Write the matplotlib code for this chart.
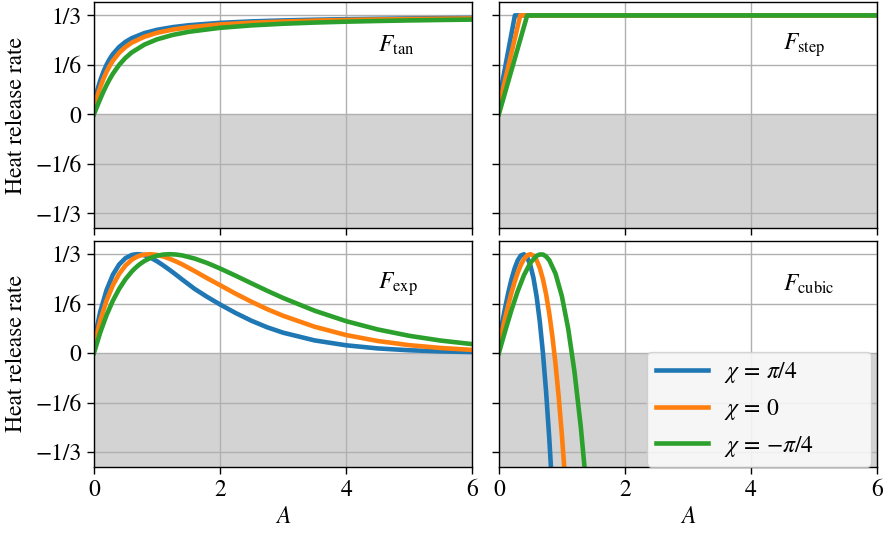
import matplotlib
matplotlib.use("Agg")
import matplotlib.pyplot as plt
from matplotlib.ticker import FixedLocator, FixedFormatter

plt.rcParams["font.family"] = ["STIXGeneral", "DejaVu Serif"]
plt.rcParams["mathtext.fontset"] = "stix"
plt.rcParams["font.size"] = 17

# ---- data -------------------------------------------------------------
chi_labels = [r"$\chi\, =\, \pi/4$", r"$\chi\, =\, 0$", r"$\chi\, =\, {-}\pi/4$"]
colors = ["tab:blue", "tab:orange", "tab:green"]

y_ticks = [-1/3, -1/6, 0, 1/6, 1/3]
y_ticklabels = ["\u22121/3", "\u22121/6", "0", "1/6", "1/3"]
x_ticks = [0, 2, 4, 6]

# F_tan
A_tan = [0, 0.05, 0.1, 0.15, 0.2, 0.25, 0.3, 0.4, 0.5, 0.6, 0.8, 1.0, 1.25,
         1.5, 2.0, 2.5, 3.0, 3.5, 4.0, 4.5, 5.0, 5.5, 6.0]
tan_pos = [0.0387, 0.0789, 0.1138, 0.1431, 0.1671, 0.1867, 0.2028, 0.2269,
           0.2441, 0.2566, 0.2737, 0.2847, 0.2938, 0.3001, 0.3082, 0.3131,
           0.3164, 0.3188, 0.3206, 0.3219, 0.3231, 0.3240, 0.3248]
tan_zero = [0.0251, 0.0597, 0.0913, 0.1192, 0.1430, 0.1633, 0.1805, 0.2072,
            0.2267, 0.2414, 0.2614, 0.2746, 0.2856, 0.2932, 0.3029, 0.3088,
            0.3128, 0.3157, 0.3179, 0.3196, 0.3209, 0.3221, 0.3230]
tan_neg = [0.0, 0.0264, 0.0520, 0.0761, 0.0984, 0.1185, 0.1366, 0.1667,
           0.1902, 0.2086, 0.2349, 0.2526, 0.2676, 0.2780, 0.2915, 0.2997,
           0.3052, 0.3092, 0.3122, 0.3145, 0.3164, 0.3179, 0.3192]

# F_step
A_step_pos = [0, 0.255, 6]
A_step_zero = [0, 0.34, 6]
A_step_neg = [0, 0.45, 6]
step_pos = [0.045, 1/3, 1/3]
step_zero = [0.025, 1/3, 1/3]
step_neg = [0.0, 1/3, 1/3]

# F_exp
A_exp = [0, 0.1, 0.2, 0.3, 0.4, 0.5, 0.6, 0.65, 0.7, 0.75, 0.8, 0.9, 1.0,
         1.1, 1.2, 1.3, 1.4, 1.6, 1.8, 2.0, 2.25, 2.5, 2.75, 3.0, 3.5, 4.0,
         4.5, 5.0, 5.5, 6.0]
exp_pos = [0.0397, 0.1391, 0.2122, 0.2639, 0.2986, 0.3199, 0.3307, 0.3326,
           0.3333, 0.3322, 0.3297, 0.3213, 0.3096, 0.2955, 0.2805, 0.2645,
           0.2480, 0.2160, 0.1890, 0.1640, 0.1350, 0.1090, 0.0870, 0.0690,
           0.0430, 0.0265, 0.0160, 0.0098, 0.0060, 0.0037]
exp_zero = [0.0250, 0.1100, 0.1768, 0.2283, 0.2670, 0.2951, 0.3143, 0.3210,
            0.3262, 0.3298, 0.3321, 0.3332, 0.3310, 0.3255, 0.3180, 0.3090,
            0.2990, 0.2760, 0.2520, 0.2290, 0.2000, 0.1730, 0.1480, 0.1260,
            0.0890, 0.0610, 0.0410, 0.0270, 0.0175, 0.0110]
exp_neg = [0.0, 0.0695, 0.1278, 0.1764, 0.2164, 0.2489, 0.2748, 0.2855,
           0.2950, 0.3030, 0.3101, 0.3210, 0.3282, 0.3320, 0.3333, 0.3322,
           0.3292, 0.3184, 0.3033, 0.2852, 0.2606, 0.2351, 0.2099, 0.1859,
           0.1430, 0.1078, 0.0799, 0.0585, 0.0424, 0.0305]

# F_cubic
A_cub_pos = [0, 0.05, 0.1, 0.15, 0.2, 0.25, 0.3, 0.35, 0.4, 0.45, 0.5, 0.55,
             0.6, 0.65, 0.7, 0.75, 0.8, 0.85, 0.9]
cub_pos = [0.0399, 0.0977, 0.1527, 0.2034, 0.2480, 0.2849, 0.3125, 0.3291,
           0.3330, 0.3228, 0.2966, 0.2529, 0.1900, 0.1063, 0.0, -0.1303,
           -0.2863, -0.4699, -0.6824]
A_cub_zero = [0, 0.05, 0.1, 0.15, 0.2, 0.25, 0.3, 0.35, 0.4, 0.45, 0.5, 0.55,
              0.6, 0.65, 0.7, 0.75, 0.8, 0.85, 0.9, 0.95, 1.0, 1.05, 1.1]
cub_zero = [0.0250, 0.0722, 0.1182, 0.1619, 0.2026, 0.2393, 0.2712, 0.2974,
            0.3171, 0.3294, 0.3333, 0.3281, 0.3129, 0.2867, 0.2488, 0.1982,
            0.1341, 0.0556, -0.0381, -0.1480, -0.2749, -0.4197, -0.5832]
A_cub_neg = [0, 0.1, 0.2, 0.3, 0.4, 0.5, 0.6, 0.65, 0.7, 0.75, 0.8, 0.9, 1.0,
             1.1, 1.2, 1.3, 1.4, 1.5]
cub_neg = [0.0, 0.0741, 0.1449, 0.2090, 0.2631, 0.3039, 0.3281, 0.3323,
           0.3323, 0.3255, 0.3132, 0.2675, 0.1918, 0.0829, -0.0627, -0.2482,
           -0.4769, -0.7522]

panels = [
    (r"$F_{\mathrm{tan}}$", [(A_tan, tan_pos), (A_tan, tan_zero), (A_tan, tan_neg)]),
    (r"$F_{\mathrm{step}}$", [(A_step_pos, step_pos), (A_step_zero, step_zero),
                              (A_step_neg, step_neg)]),
    (r"$F_{\mathrm{exp}}$", [(A_exp, exp_pos), (A_exp, exp_zero), (A_exp, exp_neg)]),
    (r"$F_{\mathrm{cubic}}$", [(A_cub_pos, cub_pos), (A_cub_zero, cub_zero),
                               (A_cub_neg, cub_neg)]),
]

# ---- figure -----------------------------------------------------------
fig = plt.figure(figsize=(8.86, 5.33), dpi=100)
left_x = [0.106, 0.563]
width = 0.427
bottoms = [0.572, 0.124]
height = 0.424

axes = []
for r in range(2):
    for c in range(2):
        ax = fig.add_axes([left_x[c], bottoms[r], width, height])
        axes.append(ax)

for i, (ax, (name, series)) in enumerate(zip(axes, panels)):
    r, c = divmod(i, 2)
    ax.axhspan(-1, 0, color="#d3d3d3", lw=0, zorder=0.5)
    for (xs, ys), col, lab in zip(series, colors, chi_labels):
        ax.plot(xs, ys, color=col, lw=3.3, label=lab, solid_joinstyle="round")
    ax.set_xlim(0, 6)
    ax.set_ylim(-0.383, 0.378)
    ax.yaxis.set_major_locator(FixedLocator(y_ticks))
    ax.xaxis.set_major_locator(FixedLocator(x_ticks))
    ax.grid(True, color="#b0b0b0", lw=1.0)
    ax.tick_params(direction="out", length=5, width=1, pad=4)
    if c == 0:
        ax.yaxis.set_major_formatter(FixedFormatter(y_ticklabels))
        ax.set_ylabel("Heat release rate", labelpad=6)
    else:
        ax.set_yticklabels([])
    if r == 0:
        ax.set_xticklabels([])
    else:
        ax.set_xlabel(r"$A$", labelpad=4)
    ax.text(0.75, 0.81, name, transform=ax.transAxes, ha="left",
            va="center", fontsize=17)
    for sp in ax.spines.values():
        sp.set_linewidth(1.0)

leg = axes[3].legend(loc="lower left", bbox_to_anchor=(0.393, 0.0, 0.591, 0.5),
                     mode="expand", borderaxespad=0.0, fontsize=17,
                     handlelength=2.2, handletextpad=0.7, borderpad=0.35,
                     framealpha=0.8, fancybox=True)

fig.savefig("out.png", dpi=100)
